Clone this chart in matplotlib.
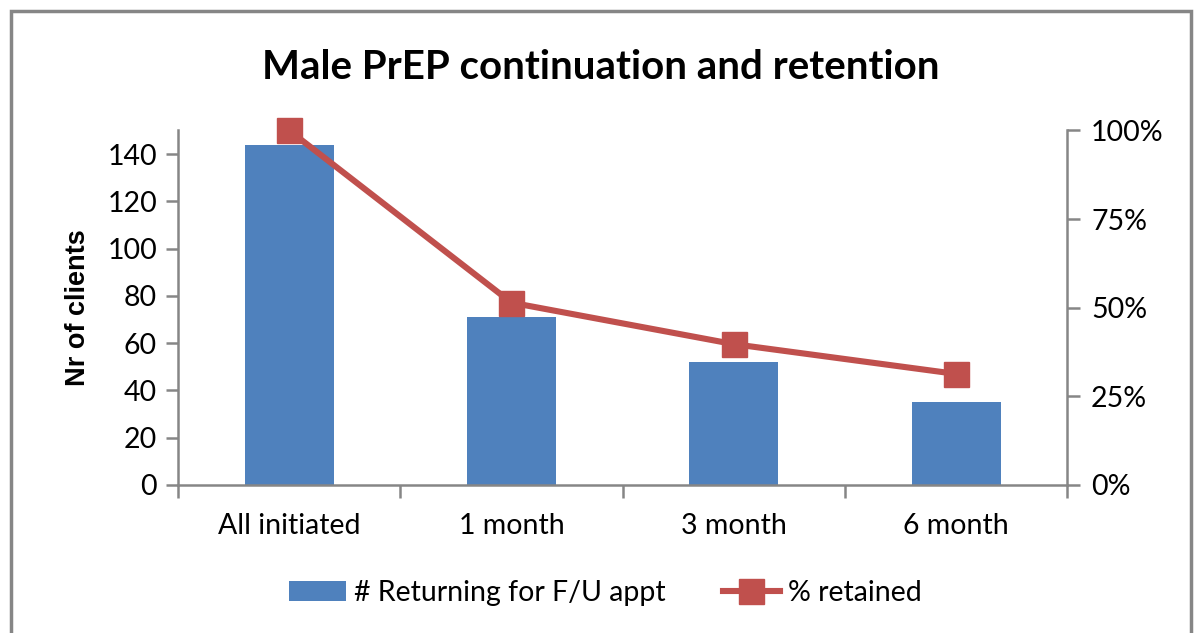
import matplotlib
matplotlib.use("Agg")
import matplotlib.pyplot as plt
from matplotlib.patches import Rectangle
from matplotlib.ticker import FuncFormatter

# data
categories = ["All initiated", "1 month", "3 month", "6 month"]
returning = [144, 71, 52, 35]
pct_retained = [100, 51.4, 39.7, 31.3]

bar_color = "#4F81BD"
line_color = "#C0504D"
axis_color = "#868686"

plt.rcParams["font.family"] = ["Lato", "DejaVu Sans"]

fig = plt.figure(figsize=(11.94, 6.33), dpi=100)
ax = fig.add_axes([0.149, 0.234, 0.745, 0.560])
ax2 = ax.twinx()

x = list(range(len(categories)))
bars = ax.bar(x, returning, width=0.4, color=bar_color, label="# Returning for F/U appt", zorder=2)
line, = ax2.plot(x, pct_retained, color=line_color, lw=4.4, marker="s", markersize=18,
                 label="% retained", zorder=3, clip_on=False)

ax.set_xlim(-0.5, 3.5)
ax.set_ylim(0, 150)
ax.set_yticks(range(0, 141, 20))
ax2.set_ylim(0, 100)
ax2.set_yticks([0, 25, 50, 75, 100])
ax2.yaxis.set_major_formatter(FuncFormatter(lambda v, p: f"{int(v)}%"))

ax.set_xticks(x)
ax.set_xticklabels(categories)
ax.set_xticks([-0.5, 0.5, 1.5, 2.5, 3.5], minor=True)

for a in (ax, ax2):
    a.spines["top"].set_visible(False)
    for s in ("left", "right", "bottom"):
        a.spines[s].set_color(axis_color)
        a.spines[s].set_linewidth(1.8)
ax.spines["right"].set_visible(False)
ax2.spines["left"].set_visible(False)
ax2.spines["bottom"].set_visible(False)

ax.tick_params(axis="y", colors=axis_color, labelcolor="black", labelsize=20.5, length=9, width=1.8, pad=6)
ax.tick_params(axis="x", which="major", length=0, labelsize=20.5, pad=20)
ax.tick_params(axis="x", which="minor", colors=axis_color, length=9, width=1.8)
ax2.tick_params(axis="y", colors=axis_color, labelcolor="black", labelsize=20.5, length=9, width=1.8, pad=8)

ax.set_ylabel("Nr of clients", fontsize=19.5, fontweight="bold", family="Liberation Sans", labelpad=12)

fig.text(0.503, 0.893, "Male PrEP continuation and retention", ha="center", va="center",
         fontsize=29, fontweight="bold")

fig.legend(handles=[bars, line], loc="center", bbox_to_anchor=(0.507, 0.063), ncol=2,
           frameon=False, fontsize=20.5, handlelength=2.0, columnspacing=2.0, handletextpad=0.3)

# outer chart frame
fig.patches.append(Rectangle((0.0092, -0.02), 0.9883, 1.0026, transform=fig.transFigure,
                             fill=False, edgecolor=axis_color, lw=2.5))

fig.savefig("out.png", dpi=100)
